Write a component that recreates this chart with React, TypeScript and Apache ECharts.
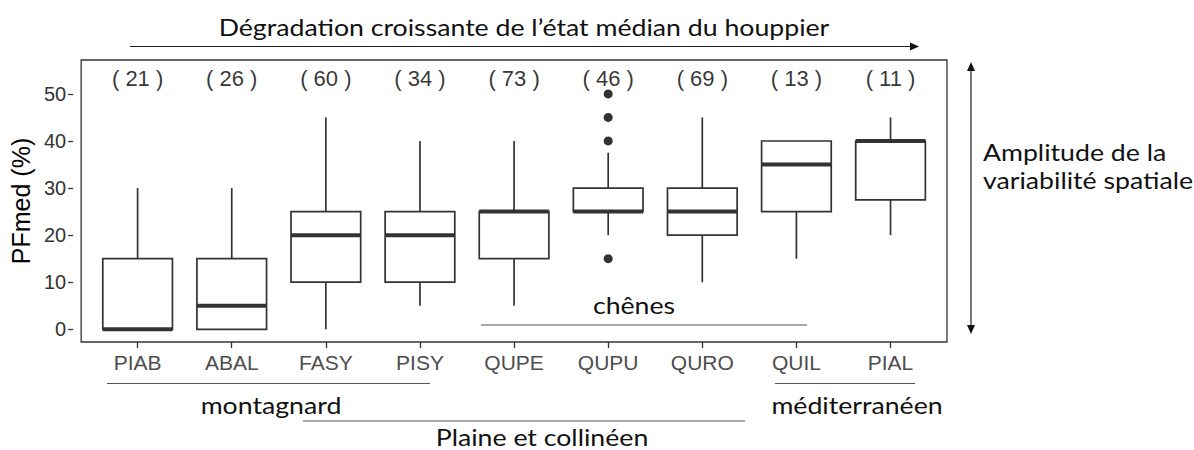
import React, { useEffect, useRef } from "react";
import * as echarts from "echarts";

// ---- data ----
const categories = ["PIAB", "ABAL", "FASY", "PISY", "QUPE", "QUPU", "QURO", "QUIL", "PIAL"];
const counts = [21, 26, 60, 34, 73, 46, 69, 13, 11];
const whiskerLow = [0, 0, 0, 5, 5, 20, 10, 15, 20];
const q1 = [0, 0, 10, 10, 15, 25, 20, 25, 27.5];
const median = [0, 5, 20, 20, 25, 25, 25, 35, 40];
const q3 = [15, 15, 25, 25, 25, 30, 30, 40, 40];
const whiskerHigh = [30, 30, 45, 40, 40, 37.5, 45, 40, 45];
const outlierCategory = ["QUPU", "QUPU", "QUPU", "QUPU"];
const outlierValue = [50, 45, 40, 15];
const yTicks = [0, 10, 20, 30, 40, 50];

// ---- layout / style constants ----
const Y_MIN = -2.7;
const Y_MAX = 57.2;
const COUNT_Y = 53.3;
const BOX_W = 0.74;
const INK = "#333333";
const SANS = "'Liberation Sans', Arial, sans-serif";
const NOTE = "Lato, 'Open Sans', sans-serif";
const NOTE_SCALE = 1.16;

export default function App() {
  const ref = useRef<HTMLDivElement>(null);

  useEffect(() => {
    if (!ref.current) return;
    const chart = echarts.init(ref.current, undefined, { renderer: "svg" });

    const boxRows = categories.map((_, i) => [i, whiskerLow[i], q1[i], median[i], q3[i], whiskerHigh[i]]);
    const outliers = outlierCategory.map((c, k) => [categories.indexOf(c), outlierValue[k]]);
    const countRows = counts.map((n, i) => [i, COUNT_Y, n]);
    const idx = categories.map((_, i) => i);

    const noteText = (text: string, x: number, y: number, align = "center") => ({
      type: "text",
      x,
      y,
      scaleX: NOTE_SCALE,
      silent: true,
      style: {
        text,
        fill: "#111",
        font: `23px ${NOTE}`,
        textAlign: align,
        textVerticalAlign: "middle",
      },
    });
    const seg = (x1: number, y1: number, x2: number, y2: number, color = "#333", w = 1.2) => ({
      type: "line",
      silent: true,
      shape: { x1, y1, x2, y2 },
      style: { stroke: color, lineWidth: w },
    });
    const head = (pts: number[][]) => ({
      type: "polygon",
      silent: true,
      shape: { points: pts },
      style: { fill: "#111" },
    });

    chart.setOption({
      animation: false,
      backgroundColor: "#ffffff",
      grid: {
        left: 81,
        top: 60,
        width: 866,
        height: 282,
        show: true,
        borderColor: INK,
        borderWidth: 1.3,
        backgroundColor: "#ffffff",
      },
      xAxis: {
        type: "value",
        min: -0.6,
        max: 8.6,
        splitLine: { show: false },
        axisLine: { show: false, onZero: false },
        axisTick: {
          show: true,
          length: 6,
          customValues: idx,
          lineStyle: { color: INK, width: 1.3 },
        },
        axisLabel: {
          customValues: idx,
          formatter: (v: number) => categories[Math.round(v)] ?? "",
          color: "#4d4d4d",
          fontFamily: SANS,
          fontSize: 21,
          margin: 10,
        },
      },
      yAxis: {
        type: "value",
        min: Y_MIN,
        max: Y_MAX,
        offset: 8,
        splitLine: { show: false },
        axisLine: { show: false, onZero: false },
        axisTick: {
          show: true,
          length: 5,
          customValues: yTicks,
          lineStyle: { color: INK, width: 1.3 },
        },
        axisLabel: {
          customValues: yTicks,
          color: "#333",
          fontFamily: SANS,
          fontSize: 20,
          margin: 7,
        },
        name: "PFmed (%)",
        nameLocation: "middle",
        nameGap: 34,
        nameTextStyle: { color: "#000", fontFamily: SANS, fontSize: 25 },
      },
      series: [
        {
          type: "custom",
          data: boxRows,
          encode: { x: 0, y: [1, 2, 3, 4, 5] },
          renderItem: (params: any, api: any) => {
            const i = api.value(0);
            const cx = api.coord([i, 0])[0];
            const w = api.size([1, 0])[0] * BOX_W;
            const py = (k: number) => api.coord([i, api.value(k)])[1];
            const lo = py(1), b1 = py(2), md = py(3), b3 = py(4), hi = py(5);
            const line = { stroke: INK, lineWidth: 1.7 };
            return {
              type: "group",
              children: [
                { type: "line", shape: { x1: cx, y1: lo, x2: cx, y2: b1 }, style: line },
                { type: "line", shape: { x1: cx, y1: b3, x2: cx, y2: hi }, style: line },
                {
                  type: "rect",
                  shape: { x: cx - w / 2, y: b3, width: w, height: b1 - b3 },
                  style: { fill: "#ffffff", stroke: INK, lineWidth: 1.7 },
                },
                {
                  type: "line",
                  shape: { x1: cx - w / 2, y1: md, x2: cx + w / 2, y2: md },
                  style: { stroke: INK, lineWidth: 4 },
                },
              ],
            };
          },
          z: 2,
        },
        {
          type: "scatter",
          data: outliers,
          symbol: "circle",
          symbolSize: 9,
          itemStyle: { color: INK, opacity: 1 },
          z: 3,
        },
        {
          type: "scatter",
          data: countRows,
          symbolSize: 1,
          itemStyle: { color: "transparent" },
          label: {
            show: true,
            position: "inside",
            formatter: (p: any) => `( ${p.value[2]} )`,
            color: "#000",
            fontFamily: SANS,
            fontSize: 22,
          },
          z: 3,
        },
      ],
      graphic: [
        noteText("Dégradation croissante de l’état médian du houppier", 524, 27),
        seg(130, 46.5, 911, 46.5, "#222", 1.2),
        head([[919, 46.5], [910, 42.5], [910, 50.5]]),
        seg(971, 70, 971, 326, "#222", 1.2),
        head([[971, 62], [967, 71], [975, 71]]),
        head([[971, 334], [967, 325], [975, 325]]),
        noteText("Amplitude de la", 983, 152, "left"),
        noteText("variabilité spatiale", 983, 180, "left"),
        noteText("chênes", 634, 305),
        seg(481, 325, 807, 325, "#555", 1),
        seg(107, 383.5, 430, 383.5, "#555", 1),
        noteText("montagnard", 271, 405),
        seg(775, 383.5, 915, 383.5, "#555", 1),
        noteText("méditerranéen", 857, 405),
        seg(303, 421, 745, 421, "#555", 1),
        noteText("Plaine et collinéen", 542, 437),
      ],
    });

    return () => chart.dispose();
  }, []);

  return (
    <div
      ref={ref}
      style={{ position: "absolute", left: 0, top: 0, width: 1194, height: 450, background: "#fff" }}
    />
  );
}
